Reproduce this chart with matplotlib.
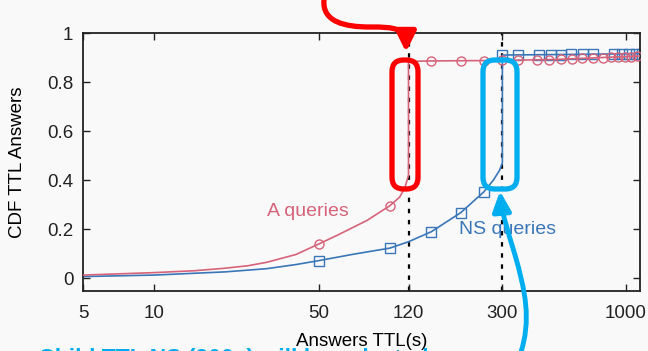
import matplotlib
matplotlib.use("Agg")
import matplotlib.pyplot as plt
from matplotlib.patches import FancyBboxPatch, FancyArrowPatch
from matplotlib.path import Path

plt.rcParams['font.family'] = ['Liberation Sans', 'DejaVu Sans']

# ---- data ----
a_line_x = [5, 10, 15, 20, 25, 30, 40, 50, 60, 80, 100, 110, 116, 120, 120, 150, 300, 500, 800, 1150]
a_line_y = [0.012, 0.022, 0.030, 0.040, 0.050, 0.064, 0.096, 0.139, 0.175, 0.235, 0.295, 0.33, 0.37, 0.42, 0.884, 0.886, 0.888, 0.892, 0.900, 0.906]
a_mark_x = [50, 100, 150, 200, 250, 300, 350, 420, 475, 530, 590, 655, 725, 800, 865, 925, 990, 1050, 1120]
a_mark_y = [0.139, 0.295, 0.886, 0.886, 0.887, 0.888, 0.889, 0.890, 0.891, 0.893, 0.895, 0.897, 0.899, 0.900, 0.901, 0.902, 0.903, 0.904, 0.905]

ns_line_x = [5, 10, 20, 30, 40, 50, 70, 100, 120, 150, 200, 250, 275, 292, 300, 300, 500, 800, 1150]
ns_line_y = [0.006, 0.012, 0.025, 0.038, 0.055, 0.071, 0.097, 0.122, 0.148, 0.189, 0.267, 0.351, 0.40, 0.44, 0.47, 0.91, 0.912, 0.914, 0.916]
ns_mark_x = [50, 100, 150, 200, 250, 300, 350, 427, 480, 533, 588, 657, 730, 889, 967, 1030, 1102, 1167]
ns_mark_y = [0.071, 0.122, 0.189, 0.267, 0.351, 0.910, 0.910, 0.911, 0.912, 0.912, 0.913, 0.913, 0.914, 0.914, 0.915, 0.915, 0.915, 0.916]

xticks = [5, 10, 50, 120, 300, 1000]
xtick_labels = ["5", "10", "50", "120", "300", "1000"]
yticks = [0, 0.2, 0.4, 0.6, 0.8, 1]
ytick_labels = ["0", "0.2", "0.4", "0.6", "0.8", "1"]
vlines_x = [120, 300]

RED = '#d6637a'
BLUE = '#3a76b8'
CYAN = '#00aeef'
BG = '#f9f9f9'

W, H = 648, 351
fig = plt.figure(figsize=(W / 100, H / 100), dpi=100, facecolor=BG)
ax = fig.add_axes([83 / W, 1 - 291 / H, (640 - 83) / W, (291 - 33) / H])
ax.set_facecolor(BG)

ax.set_xscale('log')
ax.set_xlim(5, 1150)
ax.set_ylim(-0.053, 1.0)

for vx in vlines_x:
    ax.axvline(vx, color='black', linestyle=(0, (2, 3)), linewidth=1.6, zorder=1)

ax.plot(a_line_x, a_line_y, color=RED, linewidth=1.2, zorder=3)
ax.plot(a_mark_x, a_mark_y, color=RED, linestyle='none', marker='o', markersize=6.5,
        markerfacecolor='none', markeredgewidth=1.0, zorder=3)
ax.plot(ns_line_x, ns_line_y, color=BLUE, linewidth=1.2, zorder=2)
ax.plot(ns_mark_x, ns_mark_y, color=BLUE, linestyle='none', marker='s', markersize=6.5,
        markerfacecolor='none', markeredgewidth=1.0, zorder=2)

ax.text(30, 0.273, "A queries", color=RED, fontsize=14, ha='left', va='center')
ax.text(196, 0.20, "NS queries", color=BLUE, fontsize=14, ha='left', va='center')

ax.set_xticks(xticks)
ax.set_xticklabels(xtick_labels)
ax.minorticks_off()
ax.set_yticks(yticks)
ax.set_yticklabels(ytick_labels)
ax.tick_params(axis='both', direction='in', length=5, width=1.0, labelsize=13.5,
               top=True, right=True, pad=7, colors='#222222')
ax.tick_params(axis='x', pad=10)
for s in ax.spines.values():
    s.set_linewidth(1.3)
    s.set_color('#222222')

ax.set_xlabel("Answers TTL(s)", fontsize=13.5, labelpad=8)
ax.set_ylabel("CDF TTL Answers", fontsize=13.5, labelpad=15)


def P(x, y):
    return (x / W, 1 - y / H)


# highlight boxes
def box(x0, y0, x1, y1, color):
    (fx0, fy1) = P(x0, y0)
    (fx1, fy0) = P(x1, y1)
    p = FancyBboxPatch((fx0, fy0), fx1 - fx0, fy1 - fy0,
                       boxstyle="round,pad=0,rounding_size=0.018",
                       transform=fig.transFigure, fill=False, edgecolor=color,
                       linewidth=3.8, zorder=10, mutation_aspect=W / H)
    fig.patches.append(p)


box(392, 60, 418, 189, '#ff0000')
box(483, 60, 517, 189, CYAN)

# arrows
red_verts = [P(324, 0), P(322, 22), P(345, 27), P(370, 27),
             P(395, 27), P(406, 28), P(406, 52)]
red_codes = [Path.MOVETO, Path.CURVE4, Path.CURVE4, Path.CURVE4,
             Path.CURVE4, Path.CURVE4, Path.CURVE4]
arr1 = FancyArrowPatch(path=Path(red_verts, red_codes),
                       arrowstyle='-|>,head_length=12,head_width=6',
                       transform=fig.transFigure, color='#ff0000',
                       linewidth=3.8, zorder=11, shrinkA=0, shrinkB=0)
fig.patches.append(arr1)

cy_verts = [P(520, 355), P(532, 320), P(525, 290), P(515, 255),
            P(507, 228), P(502, 214), P(500, 191)]
cy_codes = [Path.MOVETO, Path.CURVE4, Path.CURVE4, Path.CURVE4,
            Path.CURVE4, Path.CURVE4, Path.CURVE4]
arr2 = FancyArrowPatch(path=Path(cy_verts, cy_codes),
                       arrowstyle='-|>,head_length=12,head_width=5.5',
                       transform=fig.transFigure, color=CYAN,
                       linewidth=3.5, zorder=11, shrinkA=0, shrinkB=0)
fig.patches.append(arr2)

fig.text(24 / W, 1 - 366 / H, "\u2022 Child TTL NS (300s) will be selected",
         color=CYAN, fontsize=16.5, fontweight='bold', ha='left', va='baseline')

fig.savefig("out.png", dpi=100, facecolor=BG)
